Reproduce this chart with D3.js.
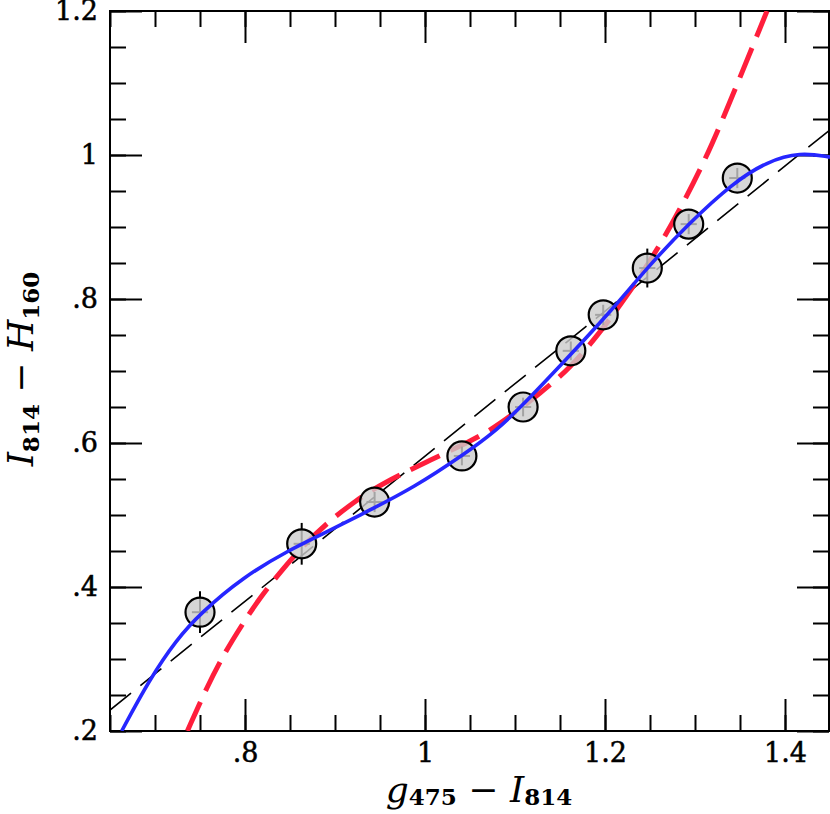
<!DOCTYPE html>
<html>
<head>
<meta charset="utf-8">
<script src="https://cdn.jsdelivr.net/npm/d3@7"></script>
<style>
  body { margin: 0; background: #fff; }
  svg { display: block; }
  .tick text { font-family: "DejaVu Serif", serif; font-size: 27px; fill: #000; stroke: #000; stroke-width: 0.5px; }
</style>
</head>
<body>
<svg id="chart"></svg>
<script>
// colour data points (g475 - I814, I814 - H160)
var ptX = [0.750, 0.863, 0.944, 1.041, 1.109, 1.162, 1.198, 1.247, 1.293, 1.347];
var ptY = [0.365, 0.460, 0.518, 0.582, 0.650, 0.728, 0.778, 0.843, 0.904, 0.968];
var ptErrY = [0.029, 0.029, 0.014, 0.013, 0.013, 0.013, 0.014, 0.027, 0.014, 0.014];
var ptErrX = [0.009, 0.009, 0.009, 0.009, 0.009, 0.009, 0.009, 0.009, 0.009, 0.009];

// blue fit
var blueX = [0.663, 0.694, 0.724, 0.750, 0.798, 0.850, 0.887, 0.939, 0.987, 1.042, 1.080, 1.109, 1.153, 1.206, 1.247, 1.294, 1.342, 1.380, 1.417, 1.450];
var blueY = [0.200, 0.272, 0.327, 0.363, 0.414, 0.452, 0.474, 0.507, 0.538, 0.583, 0.618, 0.653, 0.711, 0.782, 0.844, 0.906, 0.961, 0.991, 1.004, 0.997];

// red fit
var redX = [0.736, 0.758, 0.778, 0.798, 0.817, 0.842, 0.863, 0.891, 0.924, 0.953, 1.002, 1.053, 1.080, 1.131, 1.161, 1.191, 1.224, 1.259, 1.283, 1.306, 1.328, 1.380];
var redY = [0.200, 0.262, 0.310, 0.350, 0.386, 0.425, 0.455, 0.489, 0.521, 0.544, 0.574, 0.604, 0.623, 0.672, 0.704, 0.748, 0.803, 0.870, 0.924, 0.980, 1.040, 1.200];

// straight line fit (end points)
var lineX = [0.65, 1.45];
var lineY = [0.229, 1.035];

// ticks
var xMajor = [0.8, 1.0, 1.2, 1.4];
var xTickLabels = [".8", "1", "1.2", "1.4"];
var yMajor = [0.2, 0.4, 0.6, 0.8, 1.0, 1.2];
var yTickLabels = [".2", ".4", ".6", ".8", "1", "1.2"];

var W = 830, H = 814;
var mLeft = 110, mRight = 830, mTop = 11, mBottom = 731;

var svg = d3.select("#chart").attr("width", W).attr("height", H);

var x = d3.scaleLinear().domain([0.65, 1.45]).range([mLeft, mRight]);
var y = d3.scaleLinear().domain([0.2, 1.2]).range([mBottom, mTop]);

var xMinor = d3.range(0.65, 1.4501, 0.05);
var yMinor = d3.range(0.2, 1.2001, 0.05);

function styleAxis(g) {
    g.select(".domain").remove();
    g.selectAll(".tick line").attr("stroke", "#000").attr("stroke-width", 2);
}

// minor ticks on all four sides
svg.append("g").attr("transform", "translate(0," + mBottom + ")")
    .call(d3.axisBottom(x).tickValues(xMinor).tickSize(-16).tickFormat(""))
    .call(styleAxis);
svg.append("g").attr("transform", "translate(0," + mTop + ")")
    .call(d3.axisTop(x).tickValues(xMinor).tickSize(-16).tickFormat(""))
    .call(styleAxis);
svg.append("g").attr("transform", "translate(" + mLeft + ",0)")
    .call(d3.axisLeft(y).tickValues(yMinor).tickSize(-16).tickFormat(""))
    .call(styleAxis);
svg.append("g").attr("transform", "translate(" + (mRight - 1) + ",0)")
    .call(d3.axisRight(y).tickValues(yMinor).tickSize(-16).tickFormat(""))
    .call(styleAxis);

// major ticks with labels
svg.append("g").attr("transform", "translate(0," + mBottom + ")")
    .call(d3.axisBottom(x).tickValues(xMajor).tickSize(-32).tickPadding(12)
        .tickFormat((d, i) => xTickLabels[i]))
    .call(styleAxis);
svg.append("g").attr("transform", "translate(0," + mTop + ")")
    .call(d3.axisTop(x).tickValues(xMajor).tickSize(-32).tickFormat(""))
    .call(styleAxis);
svg.append("g").attr("transform", "translate(" + mLeft + ",0)")
    .call(d3.axisLeft(y).tickValues(yMajor).tickSize(-32).tickPadding(12)
        .tickFormat((d, i) => yTickLabels[i]))
    .call(styleAxis);
svg.append("g").attr("transform", "translate(" + (mRight - 1) + ",0)")
    .call(d3.axisRight(y).tickValues(yMajor).tickSize(-32).tickFormat(""))
    .call(styleAxis);

// frame
svg.append("rect")
    .attr("x", mLeft).attr("y", mTop)
    .attr("width", mRight - 1 - mLeft).attr("height", mBottom - mTop)
    .attr("fill", "none").attr("stroke", "#000").attr("stroke-width", 2);

// clip for curves
svg.append("clipPath").attr("id", "clip")
    .append("rect").attr("x", mLeft).attr("y", mTop)
    .attr("width", mRight - mLeft).attr("height", mBottom - mTop);

var plot = svg.append("g").attr("clip-path", "url(#clip)");

var line = d3.line()
    .x(d => x(d[0]))
    .y(d => y(d[1]))
    .curve(d3.curveBasis);

// black dashed straight fit
plot.append("path")
    .datum(d3.zip(lineX, lineY))
    .attr("d", d3.line().x(d => x(d[0])).y(d => y(d[1])))
    .attr("fill", "none").attr("stroke", "#000")
    .attr("stroke-width", 1.6).attr("stroke-dasharray", "27,12");

// red dashed fit
plot.append("path")
    .datum(d3.zip(redX, redY))
    .attr("d", line)
    .attr("fill", "none").attr("stroke", "#ff1e3c")
    .attr("stroke-width", 5).attr("stroke-dasharray", "32,12");

// points
var pts = d3.range(ptX.length).map(i => ({x: ptX[i], y: ptY[i], ex: ptErrX[i], ey: ptErrY[i]}));

var pg = plot.append("g");
pg.selectAll("line.ey").data(pts).enter().append("line")
    .attr("x1", d => x(d.x)).attr("x2", d => x(d.x))
    .attr("y1", d => y(d.y - d.ey)).attr("y2", d => y(d.y + d.ey))
    .attr("stroke", "#000").attr("stroke-width", 2);
pg.selectAll("line.ex").data(pts).enter().append("line")
    .attr("x1", d => x(d.x - d.ex)).attr("x2", d => x(d.x + d.ex))
    .attr("y1", d => y(d.y)).attr("y2", d => y(d.y))
    .attr("stroke", "#000").attr("stroke-width", 2);
pg.selectAll("circle").data(pts).enter().append("circle")
    .attr("cx", d => x(d.x)).attr("cy", d => y(d.y))
    .attr("r", 14.5)
    .attr("fill", "#cccccc").attr("fill-opacity", 0.8)
    .attr("stroke", "#000").attr("stroke-width", 2.2);

// blue fit on top
plot.append("path")
    .datum(d3.zip(blueX, blueY))
    .attr("d", line)
    .attr("fill", "none").attr("stroke", "#2626ff")
    .attr("stroke-width", 3.6);

// axis titles
var xt = svg.append("text")
    .attr("x", 479).attr("y", 802)
    .attr("text-anchor", "middle")
    .style("font-family", "'DejaVu Serif', serif")
    .style("font-size", "36px");
xt.append("tspan").style("font-style", "italic").text("g");
xt.append("tspan").attr("dy", 3).style("font-size", "23px").style("font-weight", "bold").text("475");
xt.append("tspan").attr("dy", -3).text(" \u2212 ");
xt.append("tspan").style("font-style", "italic").text("I");
xt.append("tspan").attr("dy", 3).style("font-size", "23px").style("font-weight", "bold").text("814");

var yt = svg.append("text")
    .attr("transform", "translate(33,369) rotate(-90)")
    .attr("text-anchor", "middle")
    .style("font-family", "'DejaVu Serif', serif")
    .style("font-size", "36px");
yt.append("tspan").style("font-style", "italic").text("I");
yt.append("tspan").attr("dy", 6).style("font-size", "23px").style("font-weight", "bold").text("814");
yt.append("tspan").attr("dy", -6).text(" \u2212 ");
yt.append("tspan").style("font-style", "italic").text("H");
yt.append("tspan").attr("dy", 6).style("font-size", "23px").style("font-weight", "bold").text("160");
</script>
</body>
</html>
